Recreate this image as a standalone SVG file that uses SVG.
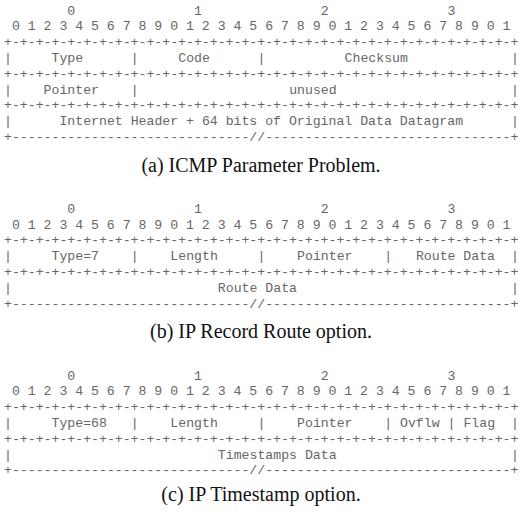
<svg xmlns="http://www.w3.org/2000/svg" width="520" height="512" viewBox="0 0 520 512">
<style>
.m{font-family:"Liberation Mono","Courier New",monospace;font-size:13.2px;fill:#666}
.c{font-family:"Liberation Serif","Times New Roman",serif;font-size:20px;fill:#111;text-anchor:middle}
</style>
<rect width="520" height="512" fill="#fff"/>
<g id="fig-a">
<text class="m" y="14.5"><tspan x="67.37">0</tspan><tspan x="194.11">1</tspan><tspan x="320.85">2</tspan><tspan x="447.59">3</tspan></text>
<text class="m" x="11.92" y="30.3">0 1 2 3 4 5 6 7 8 9 0 1 2 3 4 5 6 7 8 9 0 1 2 3 4 5 6 7 8 9 0 1</text>
<text class="m" x="4" y="46.1">+-+-+-+-+-+-+-+-+-+-+-+-+-+-+-+-+-+-+-+-+-+-+-+-+-+-+-+-+-+-+-+-+</text>
<text class="m" y="61.9"><tspan x="4">|</tspan><tspan x="51.53">Type</tspan><tspan x="130.74">|</tspan><tspan x="178.27">Code</tspan><tspan x="257.48">|</tspan><tspan x="344.61">Checksum</tspan><tspan x="510.96">|</tspan></text>
<text class="m" x="4" y="77.7">+-+-+-+-+-+-+-+-+-+-+-+-+-+-+-+-+-+-+-+-+-+-+-+-+-+-+-+-+-+-+-+-+</text>
<text class="m" y="93.5"><tspan x="4">|</tspan><tspan x="43.61">Pointer</tspan><tspan x="130.74">|</tspan><tspan x="289.16">unused</tspan><tspan x="510.96">|</tspan></text>
<text class="m" x="4" y="109.3">+-+-+-+-+-+-+-+-+-+-+-+-+-+-+-+-+-+-+-+-+-+-+-+-+-+-+-+-+-+-+-+-+</text>
<text class="m" y="125.1"><tspan x="4">|</tspan><tspan x="59.45">Internet Header + 64 bits of Original Data Datagram</tspan><tspan x="510.96">|</tspan></text>
<text class="m" x="4" y="140.9">+------------------------------//-------------------------------+</text>
<text class="c" x="261" y="172">(a) ICMP Parameter Problem.</text>
</g>
<g id="fig-b">
<text class="m" y="212.8"><tspan x="67.37">0</tspan><tspan x="194.11">1</tspan><tspan x="320.85">2</tspan><tspan x="447.59">3</tspan></text>
<text class="m" x="11.92" y="228.6">0 1 2 3 4 5 6 7 8 9 0 1 2 3 4 5 6 7 8 9 0 1 2 3 4 5 6 7 8 9 0 1</text>
<text class="m" x="4" y="244.4">+-+-+-+-+-+-+-+-+-+-+-+-+-+-+-+-+-+-+-+-+-+-+-+-+-+-+-+-+-+-+-+-+</text>
<text class="m" y="260.2"><tspan x="4">|</tspan><tspan x="51.53">Type=7</tspan><tspan x="130.74">|</tspan><tspan x="170.35">Length</tspan><tspan x="257.48">|</tspan><tspan x="297.08">Pointer</tspan><tspan x="384.22">|</tspan><tspan x="415.90">Route Data</tspan><tspan x="510.96">|</tspan></text>
<text class="m" x="4" y="276">+-+-+-+-+-+-+-+-+-+-+-+-+-+-+-+-+-+-+-+-+-+-+-+-+-+-+-+-+-+-+-+-+</text>
<text class="m" y="291.8"><tspan x="4">|</tspan><tspan x="217.87">Route Data</tspan><tspan x="510.96">|</tspan></text>
<text class="m" x="4" y="307.6">+------------------------------//-------------------------------+</text>
<text class="c" x="261" y="338">(b) IP Record Route option.</text>
</g>
<g id="fig-c">
<text class="m" y="379.5"><tspan x="67.37">0</tspan><tspan x="194.11">1</tspan><tspan x="320.85">2</tspan><tspan x="447.59">3</tspan></text>
<text class="m" x="11.92" y="395.3">0 1 2 3 4 5 6 7 8 9 0 1 2 3 4 5 6 7 8 9 0 1 2 3 4 5 6 7 8 9 0 1</text>
<text class="m" x="4" y="411.1">+-+-+-+-+-+-+-+-+-+-+-+-+-+-+-+-+-+-+-+-+-+-+-+-+-+-+-+-+-+-+-+-+</text>
<text class="m" y="426.9"><tspan x="4">|</tspan><tspan x="51.53">Type=68</tspan><tspan x="130.74">|</tspan><tspan x="170.35">Length</tspan><tspan x="257.48">|</tspan><tspan x="297.08">Pointer</tspan><tspan x="384.22">|</tspan><tspan x="400.06">Ovflw</tspan><tspan x="447.59">|</tspan><tspan x="463.43">Flag</tspan><tspan x="510.96">|</tspan></text>
<text class="m" x="4" y="442.7">+-+-+-+-+-+-+-+-+-+-+-+-+-+-+-+-+-+-+-+-+-+-+-+-+-+-+-+-+-+-+-+-+</text>
<text class="m" y="458.5"><tspan x="4">|</tspan><tspan x="217.87">Timestamps Data</tspan><tspan x="510.96">|</tspan></text>
<text class="m" x="4" y="474.3">+------------------------------//-------------------------------+</text>
<text class="c" x="261" y="501">(c) IP Timestamp option.</text>
</g>
</svg>
